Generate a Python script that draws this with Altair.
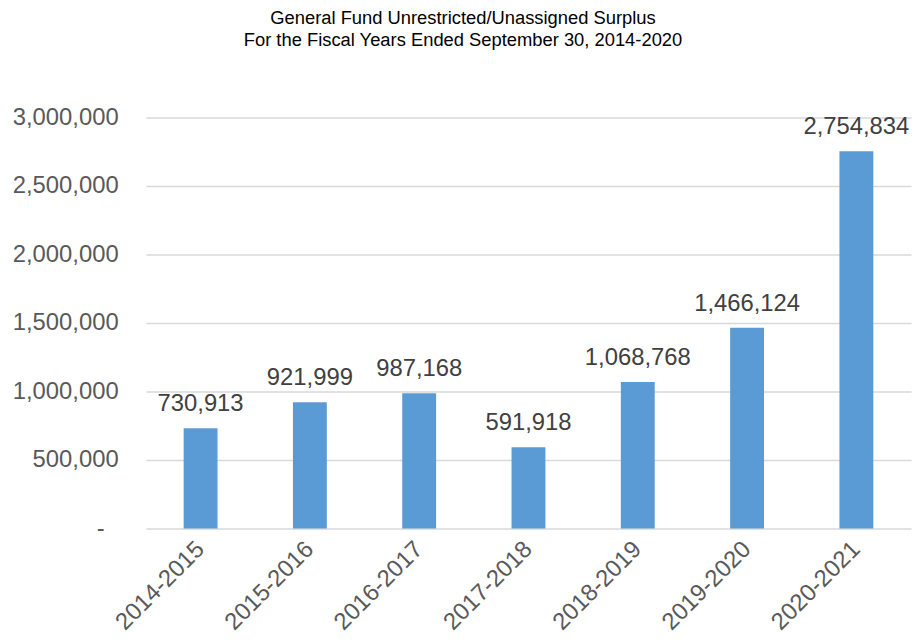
import altair as alt
import pandas as pd

years = ["2014-2015", "2015-2016", "2016-2017", "2017-2018", "2018-2019", "2019-2020", "2020-2021"]
surplus = [730913, 921999, 987168, 591918, 1068768, 1466124, 2754834]
y_ticks = [0, 500000, 1000000, 1500000, 2000000, 2500000, 3000000]
title_lines = ["General Fund Unrestricted/Unassigned Surplus",
               "For the Fiscal Years Ended September 30, 2014-2020"]

df = pd.DataFrame({"year": years, "surplus": surplus})
FONT = "Liberation Sans"

x = alt.X("year:N", sort=years, title=None,
          scale=alt.Scale(paddingInner=0.69, paddingOuter=0.345),
          axis=alt.Axis(labelAngle=-45, labelFontSize=24, labelColor="#595959",
                        labelFont=FONT, ticks=False, domain=False, labelPadding=17,
                        labelAlign="right", labelBaseline="middle"))
y = alt.Y("surplus:Q", title=None,
          scale=alt.Scale(domain=[0, 3000000], nice=False),
          axis=alt.Axis(values=y_ticks, labelFontSize=24, labelColor="#595959",
                        labelFont=FONT, ticks=False, domain=False,
                        labelPadding={"condition": {"test": "datum.value == 0", "value": 42}, "value": 28},
                        gridColor="#d9d9d9", gridWidth=1.5,
                        labelExpr="datum.value == 0 ? '-' : format(datum.value, ',')"))

bars = alt.Chart(df).mark_bar(color="#5b9bd5").encode(x=x, y=y)
labels = alt.Chart(df).mark_text(dy=-17, baseline="alphabetic", fontSize=24,
                                 color="#404040", font=FONT).encode(
    x=alt.X("year:N", sort=years), y="surplus:Q", text=alt.Text("surplus:Q", format=","))

chart = (bars + labels).properties(
    width=771, height=414,
    title=alt.TitleParams(text=title_lines, fontSize=18.5, font=FONT, fontWeight="normal",
                          color="#000000", anchor="middle", frame="group", dx=-66,
                          offset=57, lineHeight=22),
    padding={"left": 139, "top": 108, "right": 5, "bottom": 106},
    autosize=alt.AutoSizeParams(type="none"),
    background="white",
).configure_view(stroke=None)

chart.save("out.html", embed_options={"renderer": "svg", "actions": False})
